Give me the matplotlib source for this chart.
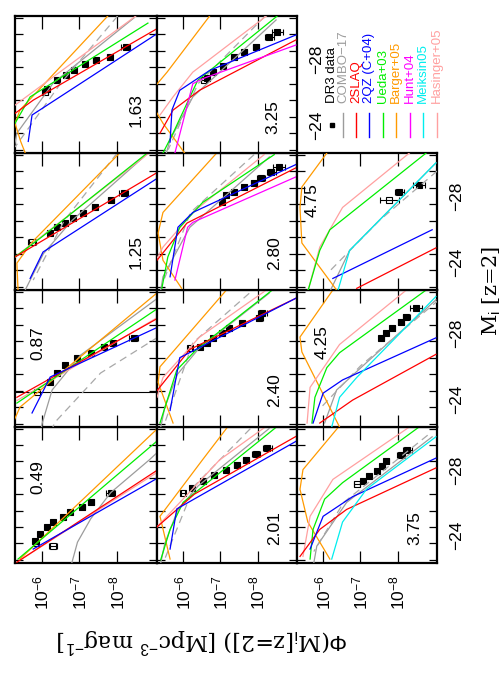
import matplotlib
matplotlib.use("Agg")
import matplotlib.pyplot as plt
import numpy as np
from matplotlib.ticker import FixedLocator, LogLocator, MultipleLocator, NullFormatter

plt.rcParams["font.family"] = ["Liberation Sans", "DejaVu Sans"]
plt.rcParams["mathtext.fontset"] = "custom"
plt.rcParams["mathtext.rm"] = "Liberation Sans"
plt.rcParams["mathtext.it"] = "Liberation Sans:italic"
plt.rcParams["mathtext.bf"] = "Liberation Sans:bold"

# redshift bins, and where each sits in the (rotated) page grid: (column, row)
redshifts = ["0.49", "0.87", "1.25", "1.63", "2.01", "2.40", "2.80", "3.25", "3.75", "4.25", "4.75"]
cells = {"0.49": (0, 3), "0.87": (0, 2), "1.25": (0, 1), "1.63": (0, 0),
         "2.01": (1, 3), "2.40": (1, 2), "2.80": (1, 1), "3.25": (1, 0),
         "3.75": (2, 3), "4.25": (2, 2), "4.75": (2, 1)}

# DR3 binned luminosity function: (M_i, log10 Phi, error in dex)
dr3 = {
    "0.49": [(-26.1, -7.83, 0.12), (-25.5, -7.30, 0.08), (-25.2, -7.08, 0.06), (-24.9, -6.76, 0.05),
             (-24.6, -6.58, 0.05), (-24.28, -6.31, 0.04), (-23.98, -6.15, 0.04), (-23.55, -5.96, 0.04),
             (-23.13, -5.83, 0.04)],
    "0.87": [(-27.2, -8.44, 0.12), (-26.9, -7.88, 0.08), (-26.65, -7.64, 0.06), (-26.3, -7.30, 0.05),
             (-25.98, -6.95, 0.04), (-25.55, -6.63, 0.04), (-25.07, -6.42, 0.04), (-24.5, -6.23, 0.04)],
    "1.25": [(-27.7, -8.17, 0.12), (-27.25, -7.83, 0.08), (-26.8, -7.40, 0.06), (-26.45, -7.10, 0.05),
             (-26.15, -6.84, 0.04), (-25.85, -6.63, 0.04), (-25.6, -6.42, 0.04), (-25.25, -6.23, 0.04)],
    "1.63": [(-28.22, -8.23, 0.12), (-27.6, -7.80, 0.07), (-27.43, -7.43, 0.06), (-27.2, -7.14, 0.05),
             (-26.83, -6.87, 0.04), (-26.5, -6.66, 0.04), (-26.2, -6.42, 0.04), (-25.7, -6.15, 0.04)],
    "2.01": [(-28.8, -8.25, 0.12), (-28.45, -7.95, 0.10), (-28.1, -7.69, 0.08), (-27.8, -7.43, 0.06),
             (-27.5, -7.16, 0.05), (-27.2, -6.84, 0.04), (-26.8, -6.52, 0.04), (-26.4, -6.23, 0.04)],
    "2.40": [(-28.7, -8.12, 0.12), (-28.4, -8.04, 0.10), (-28.1, -7.59, 0.07), (-27.8, -7.24, 0.05),
             (-27.5, -7.03, 0.05), (-27.2, -6.79, 0.04), (-26.9, -6.63, 0.04), (-26.65, -6.44, 0.04)],
    "2.80": [(-29.25, -8.57, 0.15), (-28.95, -8.36, 0.12), (-28.6, -8.09, 0.10), (-28.3, -7.91, 0.08),
             (-28.04, -7.64, 0.06), (-27.74, -7.37, 0.05), (-27.55, -7.16, 0.05), (-27.13, -7.03, 0.05)],
    "3.25": [(-29.13, -8.52, 0.15), (-28.8, -8.31, 0.12), (-28.2, -7.96, 0.08), (-27.9, -7.64, 0.06),
             (-27.6, -7.37, 0.05), (-27.1, -7.06, 0.05), (-26.7, -6.79, 0.05), (-26.35, -6.63, 0.05)],
    "3.75": [(-28.7, -8.25, 0.12), (-28.4, -8.09, 0.10), (-28.0, -7.69, 0.07), (-27.7, -7.59, 0.06),
             (-27.4, -7.43, 0.05), (-27.1, -7.24, 0.05), (-26.8, -7.06, 0.05)],
    "4.25": [(-29.0, -8.49, 0.15), (-28.46, -8.23, 0.10), (-28.16, -8.09, 0.08), (-27.8, -7.85, 0.07),
             (-27.5, -7.69, 0.06), (-27.2, -7.56, 0.06)],
    "4.75": [(-28.16, -8.57, 0.15), (-27.74, -8.04, 0.12)],
}
# faint (incomplete) bins drawn as open squares
dr3_open = {
    "0.49": [(-22.83, -6.31, 0.10), (-23.0, -5.85, 0.05)],
    "0.87": [(-23.9, -5.88, 4.0)],
    "1.25": [(-24.7, -5.75, 0.10)],
    "1.63": [(-25.5, -6.10, 0.06)],
    "2.01": [(-26.1, -6.00, 0.06)],
    "2.40": [(-26.6, -6.18, 0.06)],
    "3.25": [(-26.2, -6.55, 0.06)],
    "3.75": [(-26.6, -6.90, 0.08)],
    "4.75": [(-27.25, -7.77, 0.25)],
}

# model luminosity functions: (M_i, log10 Phi) vertices per redshift bin
combo17 = {
    "0.49": [(-29.5, -9.5), (-28.1, -8.85), (-26.1, -7.83), (-24.5, -7.30), (-23.07, -6.95), (-21.8, -6.80)],
    "0.87": [(-30.0, -9.30), (-26.15, -7.03), (-24.04, -6.28), (-22.04, -6.02), (-21.8, -6.00)],
    "1.25": [(-29.86, -8.70), (-26.0, -6.80), (-24.0, -6.05), (-21.8, -5.57)],
    "1.63": [(-29.98, -8.44), (-26.04, -6.31), (-23.0, -5.35), (-21.8, -5.25)],
    "2.01": [(-30.0, -8.30), (-26.5, -6.40), (-25.0, -5.85), (-23.0, -5.51), (-21.8, -5.40)],
    "2.40": [(-29.9, -8.30), (-26.5, -6.40), (-25.0, -5.85), (-23.0, -5.51), (-21.8, -5.40)],
    "2.80": [(-29.86, -8.31), (-25.6, -6.18), (-22.6, -5.46), (-21.8, -5.40)],
    "3.25": [(-29.86, -8.49), (-25.2, -6.26), (-22.6, -5.65), (-21.8, -5.55)],
    "3.75": [(-29.5, -8.92), (-25.5, -6.63), (-22.83, -5.83), (-21.8, -5.75)],
    "4.25": [(-29.5, -9.02), (-25.7, -7.16), (-24.04, -6.36), (-22.04, -6.04)],
    "4.75": [(-29.5, -9.02), (-24.2, -6.71), (-21.8, -6.20)],
}
combo17_alt = {
    "0.87": [(-27.25, -9.08), (-25.07, -7.56), (-22.1, -6.36), (-21.8, -6.30)],
    "1.25": [(-30.1, -8.00), (-26.0, -6.60), (-22.4, -5.78)],
    "1.63": [(-30.1, -8.01), (-26.0, -6.50), (-22.16, -5.30)],
    "2.01": [(-30.0, -7.80), (-26.5, -6.30), (-22.0, -5.50)],
    "2.40": [(-29.9, -7.77), (-26.9, -6.26), (-22.0, -5.50)],
    "2.80": [(-30.0, -7.90), (-26.5, -6.20), (-22.5, -5.50)],
    "3.25": [(-30.1, -8.20), (-26.0, -6.40), (-22.0, -5.60)],
    "3.75": [(-29.6, -8.80), (-25.5, -6.55), (-22.5, -5.75)],
    "4.25": [(-29.5, -9.10), (-25.5, -7.00), (-23.0, -5.95)],
    "4.75": [(-29.0, -9.05), (-26.0, -7.50), (-23.0, -6.20)],
}
sdss_2slaq = {
    "0.49": [(-27.5, -9.08), (-21.85, -5.35)],
    "0.87": [(-28.4, -9.08), (-23.6, -5.35)],
    "1.25": [(-28.95, -9.08), (-23.8, -5.30)],
    "1.63": [(-29.37, -9.08), (-25.0, -5.78), (-24.2, -5.30)],
    "2.01": [(-29.6, -9.08), (-26.0, -6.30), (-24.0, -5.30)],
    "2.40": [(-29.6, -9.02), (-26.5, -6.18), (-24.0, -5.30)],
    "2.80": [(-29.2, -9.02), (-25.85, -6.10), (-23.6, -5.30)],
    "3.25": [(-28.65, -9.02), (-25.6, -6.44), (-24.4, -5.73), (-23.0, -5.38)],
    "3.75": [(-27.6, -9.02), (-25.07, -6.63), (-23.85, -5.91), (-22.2, -5.38)],
    "4.25": [(-26.2, -9.02), (-23.43, -6.79), (-22.04, -5.91)],
    "4.75": [(-24.35, -9.02), (-21.9, -6.90)],
}
qz2 = {
    "0.49": [(-27.0, -9.08), (-22.65, -5.78)],
    "0.87": [(-27.86, -9.08), (-24.83, -6.23), (-22.65, -5.75)],
    "1.25": [(-28.6, -9.08), (-24.1, -6.04), (-22.5, -5.70)],
    "1.63": [(-29.07, -9.08), (-24.1, -5.75), (-22.5, -5.65)],
    "2.01": [(-29.3, -9.08), (-25.1, -5.83), (-22.65, -5.65)],
    "2.40": [(-29.6, -9.02), (-26.0, -5.91), (-22.8, -5.65)],
    "2.80": [(-29.4, -9.02), (-26.5, -6.26), (-25.6, -5.86), (-22.6, -5.65)],
    "3.25": [(-28.95, -9.02), (-26.8, -6.71), (-25.6, -5.91), (-24.4, -5.70), (-22.46, -5.65)],
    "3.75": [(-28.2, -9.02), (-25.85, -6.79), (-24.65, -6.00), (-22.65, -5.65)],
    "4.25": [(-27.2, -9.02), (-24.65, -6.52), (-23.85, -6.00), (-22.04, -5.73)],
    "4.75": [(-25.45, -8.92), (-22.5, -6.26)],
}
ueda03 = {
    "0.49": [(-29.3, -9.08), (-22.04, -5.38)],
    "0.87": [(-29.0, -9.08), (-23.25, -5.35)],
    "1.25": [(-30.04, -8.76), (-25.0, -6.00), (-23.8, -5.30)],
    "1.63": [(-29.67, -8.81), (-25.2, -5.70), (-23.6, -5.30)],
    "2.01": [(-30.1, -8.50), (-25.5, -6.00), (-23.85, -5.65), (-22.0, -5.40)],
    "2.40": [(-30.1, -8.39), (-26.5, -6.36), (-25.25, -5.83), (-22.04, -5.38)],
    "2.80": [(-30.0, -8.44), (-27.1, -6.52), (-25.6, -5.91), (-23.8, -5.59), (-21.9, -5.43)],
    "3.25": [(-30.1, -8.52), (-26.2, -6.39), (-23.0, -5.73), (-21.8, -5.46)],
    "3.75": [(-30.1, -8.57), (-26.7, -6.52), (-25.7, -6.04), (-23.85, -5.73), (-22.04, -5.65)],
    "4.25": [(-30.1, -8.76), (-26.3, -6.44), (-25.4, -6.10), (-23.6, -5.78), (-22.04, -5.70)],
    "4.75": [(-30.1, -8.76), (-25.45, -6.18), (-24.2, -5.91), (-21.8, -5.60)],
}
barger05 = {
    "0.49": [(-30.04, -9.08), (-22.04, -5.43)],
    "0.87": [(-29.98, -9.08), (-23.0, -5.43), (-21.8, -5.20)],
    "1.25": [(-30.04, -8.04), (-24.7, -5.75), (-23.43, -5.35), (-21.8, -5.38)],
    "1.63": [(-30.1, -7.75), (-24.4, -5.43), (-23.6, -5.30), (-22.5, -5.45), (-21.8, -5.57)],
    "2.01": [(-30.1, -7.19), (-28.1, -6.52), (-24.65, -5.38), (-22.04, -5.65)],
    "2.40": [(-30.1, -7.16), (-25.45, -5.38), (-24.5, -5.33), (-22.04, -5.73)],
    "2.80": [(-30.3, -6.98), (-26.5, -5.46), (-25.25, -5.33), (-23.6, -5.46), (-21.9, -5.96)],
    "3.25": [(-30.1, -6.71), (-26.7, -5.57), (-25.25, -5.03), (-23.6, -5.46), (-21.8, -6.04)],
    "3.75": [(-30.04, -6.39), (-27.5, -5.46), (-26.3, -5.38), (-24.3, -5.59), (-22.04, -6.18)],
    "4.25": [(-30.1, -6.26), (-27.25, -5.38), (-26.35, -5.43), (-21.8, -6.44)],
    "4.75": [(-30.1, -6.10), (-28.04, -5.43), (-26.8, -5.38), (-24.65, -5.43), (-21.8, -6.36)],
}
hunt04 = {
    "2.80": [(-28.65, -9.02), (-25.9, -6.26), (-25.6, -6.12), (-22.4, -5.78)],
    "3.25": [(-28.34, -9.02), (-26.3, -6.52), (-26.0, -6.26), (-21.8, -5.78)],
}
meiksin05 = {
    "3.75": [(-29.5, -9.02), (-26.3, -7.16), (-24.3, -6.52), (-22.04, -6.23)],
    "4.25": [(-29.7, -9.02), (-24.8, -6.90), (-23.6, -6.44), (-21.8, -6.23)],
    "4.75": [(-29.5, -9.02), (-24.2, -6.71), (-21.8, -6.40)],
}
hasinger05 = {
    "0.49": [(-27.37, -9.08), (-22.0, -5.45)],
    "0.87": [(-28.46, -9.08), (-23.4, -5.35)],
    "1.25": [(-30.04, -8.81), (-23.8, -5.30)],
    "1.63": [(-30.1, -8.49), (-24.7, -5.30)],
    "2.01": [(-30.1, -8.20), (-28.1, -6.98), (-24.0, -5.30)],
    "2.40": [(-30.1, -8.23), (-27.25, -6.44), (-24.8, -5.46), (-23.6, -5.30)],
    "2.80": [(-30.0, -8.17), (-26.6, -6.31), (-24.4, -5.46), (-23.5, -5.25)],
    "3.25": [(-30.1, -8.23), (-26.7, -6.26), (-25.2, -5.73), (-24.1, -5.38)],
    "3.75": [(-30.1, -8.31), (-26.9, -6.26), (-24.65, -5.65), (-22.2, -5.46)],
    "4.25": [(-30.1, -8.23), (-26.8, -6.44), (-24.2, -5.65), (-22.04, -5.57)],
    "4.75": [(-30.1, -8.31), (-26.8, -6.52), (-24.4, -5.91), (-21.8, -5.60)],
}

legend_labels = ["DR3 data", "COMBO\u221217", "2SLAQ", "2QZ (C+04)", "Ueda+03",
                 "Barger+05", "Hunt+04", "Meiksin05", "Hasinger+05"]

models = [
    (combo17, "#9c9c9c", "-"),
    (combo17_alt, "#a8a8a8", (0, (6, 4))),
    (barger05, "#ff9a00", "-"),
    (hasinger05, "#ffa0a0", "-"),
    (ueda03, "#00ee00", "-"),
    (sdss_2slaq, "#ff0000", "-"),
    (qz2, "#0000ff", "-"),
    (hunt04, "#ff00ff", "-"),
    (meiksin05, "#00eeee", "-"),
]
legend_colors = ["k", "#9c9c9c", "#ff0000", "#0000ff", "#00ee00", "#ff9a00", "#ff00ff", "#00eeee", "#ffa0a0"]

# ---- layout (pixel grid of the rotated page) ----
W, H = 504, 673
fig = plt.figure(figsize=(W / 100, H / 100), dpi=100)
col_edges = [15, 157, 297, 437]
row_edges = [16, 153, 290, 427, 563]

label_pos = {"0.49": (0.16, 0.63), "0.87": (0.16, 0.61), "1.25": (0.85, 0.28), "1.63": (0.85, 0.31),
             "2.01": (0.84, 0.26), "2.40": (0.84, 0.27), "2.80": (0.84, 0.27), "3.25": (0.83, 0.26),
             "3.75": (0.84, 0.26), "4.25": (0.18, 0.62), "4.75": (0.11, 0.66)}


def cell_axes(c, r):
    x0, x1 = col_edges[c], col_edges[c + 1]
    y0, y1 = row_edges[r], row_edges[r + 1]
    return fig.add_axes([x0 / W, 1 - y1 / H, (x1 - x0) / W, (y1 - y0) / H])


for z in redshifts:
    c, r = cells[z]
    ax = cell_axes(c, r)
    for curves, color, ls in models:
        if z in curves:
            M, lp = zip(*curves[z])
            ax.plot(10 ** np.array(lp), M, color=color, ls=ls, lw=0.9, zorder=3)
    for pts, face in ((dr3.get(z, []), "k"), (dr3_open.get(z, []), "none")):
        if not pts:
            continue
        M, lp, e = (np.array(a) for a in zip(*pts))
        phi = 10 ** lp
        ax.errorbar(phi, M, xerr=[phi - 10 ** (lp - e), 10 ** (lp + e) - phi], fmt="s", ms=4.5,
                    mfc=face, mec="k", mew=0.8, ecolor="k", elinewidth=0.8, capsize=2, zorder=2)

    ax.set_xscale("log")
    ax.set_xlim(10 ** -5.3, 10 ** -9.05)
    ax.set_ylim(-21.8, -30.1)
    ax.xaxis.set_major_locator(FixedLocator([1e-6, 1e-7, 1e-8]))
    ax.xaxis.set_minor_locator(LogLocator(base=10, subs=np.arange(2, 10)))
    ax.xaxis.set_minor_formatter(NullFormatter())
    ax.set_xticklabels([r"$10^{-6}$", r"$10^{-7}$", r"$10^{-8}$"])
    ax.yaxis.set_major_locator(FixedLocator([-28, -24]))
    ax.yaxis.set_minor_locator(MultipleLocator(1))
    ax.tick_params(which="both", direction="in", top=True, bottom=True, left=True, right=True,
                   width=0.9, labelsize=12.5)
    ax.tick_params(axis="x", which="major", length=9)
    ax.tick_params(axis="x", which="minor", length=5)
    ax.tick_params(axis="y", which="both", length=6)
    ax.tick_params(axis="x", labelbottom=(r == 3), labelrotation=90, pad=9)
    ax.tick_params(axis="y", labelleft=False, labelright=(c == 2 or z == "3.25"),
                   labelrotation=90, pad=9)
    for s in ax.spines.values():
        s.set_linewidth(1.6)
    lx, ly = label_pos[z]
    ax.text(lx, ly, z, transform=ax.transAxes, rotation=90, ha="center", va="center", fontsize=12.5)

# legend block in the empty cell
lax = cell_axes(2, 0)
lax.set_xlim(0, 140)
lax.set_ylim(137, 0)
lax.axis("off")
xs = [35, 46, 59, 72, 86, 99, 113, 126, 140]
for i, (lab, col) in enumerate(zip(legend_labels, legend_colors)):
    if i == 0:
        lax.plot([xs[i]], [109], "s", color="k", ms=3.5, clip_on=False)
    else:
        lax.plot([xs[i], xs[i]], [97, 121], color=col, lw=1.0, clip_on=False)
    lax.text(xs[i], 87, lab, color=col, rotation=90, ha="center", va="bottom", fontsize=9.5,
             clip_on=False)

fig.text(492 / W, 1 - 291 / H, r"M$_{\rm i}$ [z=2]", rotation=90, ha="center", va="center",
         fontsize=15, family="DejaVu Serif")
fig.text(203 / W, 1 - 640 / H, r"$\Phi$(M$_{\rm i}$[z=2]) [Mpc$^{-3}$ mag$^{-1}$]", rotation=180,
         ha="center", va="center", fontsize=16, family="DejaVu Serif")

fig.savefig("out.png", dpi=100)
